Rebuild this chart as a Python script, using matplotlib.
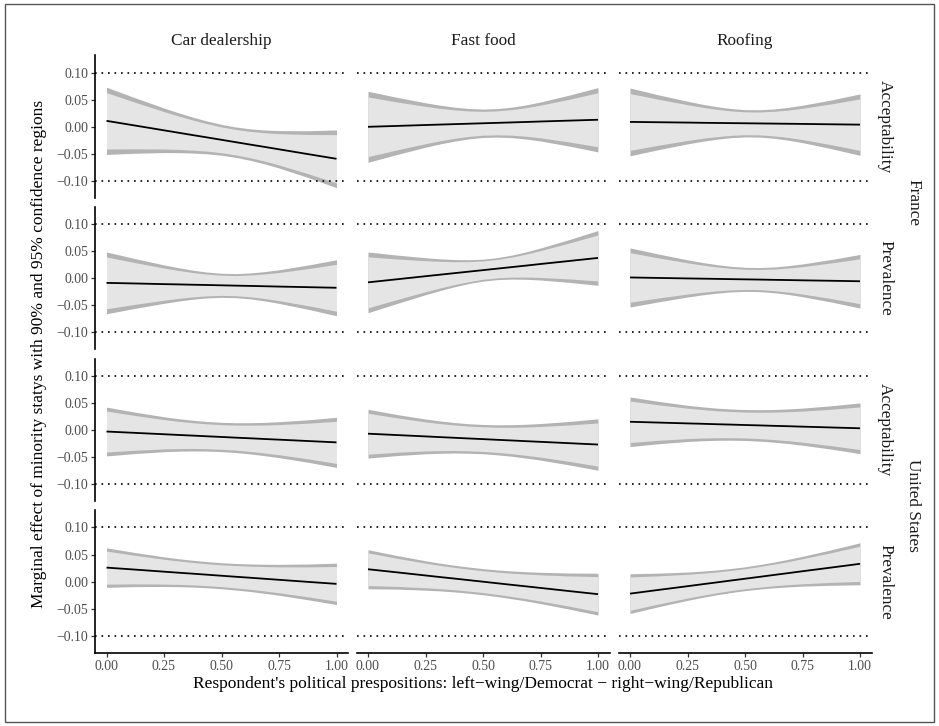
import numpy as np
import matplotlib.pyplot as plt
from matplotlib.patches import Rectangle

plt.rcParams['font.family'] = ['Liberation Serif', 'DejaVu Serif']

industries = ['Car dealership', 'Fast food', 'Roofing']
countries = ['France', 'United States']
outcomes = ['Acceptability', 'Prevalence']

x_pts = [0, 0.125, 0.25, 0.3125, 0.375, 0.4375, 0.5, 0.5625, 0.625, 0.6875, 0.75, 0.875, 1.0]

# fitted line and half-widths of the 95% / 90% bands, one list per industry
fr_acc_line = [[.011, .0023, -.0065, -.0109, -.0153, -.0196, -.024, -.0284, -.0328, -.0371, -.0415, -.0503, -.059],
               [0, .0016, .0033, .0041, .0049, .0057, .0065, .0073, .0081, .0089, .0098, .0114, .013],
               [.009, .0084, .0078, .0074, .0071, .0068, .0065, .0062, .0059, .0056, .0053, .0046, .004]]
fr_acc_hw95 = [[.0620, .0511, .0411, .0368, .0331, .0302, .0284, .0280, .0290, .0312, .0345, .0430, .0532],
               [.0655, .0528, .0410, .0358, .0314, .0280, .0262, .0263, .0281, .0315, .0360, .0470, .0593],
               [.0625, .0504, .0393, .0343, .0301, .0269, .0252, .0252, .0270, .0302, .0345, .0449, .0566]]
fr_acc_hw90 = [[.0520, .0429, .0345, .0309, .0278, .0253, .0238, .0235, .0243, .0262, .0289, .0361, .0446],
               [.0550, .0443, .0344, .0300, .0263, .0235, .0220, .0221, .0236, .0264, .0302, .0394, .0498],
               [.0524, .0423, .0330, .0288, .0253, .0226, .0211, .0211, .0227, .0253, .0289, .0377, .0475]]

fr_prev_line = [[-.009, -.0101, -.0113, -.0118, -.0124, -.0129, -.0135, -.0141, -.0146, -.0152, -.0158, -.0169, -.018],
                [-.008, -.0024, .0033, .0061, .0089, .0117, .0145, .0173, .0201, .0229, .0258, .0314, .037],
                [.001, .0001, -.0008, -.0012, -.0016, -.0021, -.0025, -.0029, -.0034, -.0038, -.0043, -.0051, -.006]]
fr_prev_hw95 = [[.0570, .0458, .0354, .0308, .0268, .0238, .0222, .0222, .0239, .0270, .0310, .0407, .0516],
                [.0560, .0447, .0341, .0293, .0252, .0220, .0202, .0203, .0221, .0253, .0295, .0395, .0505],
                [.0545, .0440, .0343, .0300, .0264, .0237, .0222, .0222, .0237, .0265, .0302, .0392, .0494]]
fr_prev_hw90 = [[.0478, .0384, .0297, .0258, .0225, .0200, .0186, .0186, .0201, .0227, .0260, .0341, .0433],
                [.0470, .0375, .0286, .0246, .0211, .0185, .0169, .0170, .0185, .0212, .0248, .0331, .0424],
                [.0457, .0369, .0288, .0252, .0221, .0199, .0186, .0186, .0199, .0222, .0253, .0329, .0414]]

us_acc_line = [[-.003, -.0055, -.008, -.0093, -.0105, -.0118, -.013, -.0143, -.0155, -.0168, -.018, -.0205, -.023],
               [-.007, -.0095, -.012, -.0133, -.0145, -.0158, -.017, -.0183, -.0195, -.0208, -.022, -.0245, -.027],
               [.015, .0135, .012, .0113, .0105, .0098, .009, .0083, .0075, .0068, .006, .0045, .003]]
us_acc_hw95 = [[.0450, .0381, .0322, .0300, .0283, .0273, .0270, .0275, .0288, .0307, .0331, .0391, .0462],
               [.0450, .0379, .0320, .0298, .0281, .0272, .0270, .0277, .0291, .0312, .0337, .0401, .0474],
               [.0457, .0390, .0334, .0313, .0297, .0288, .0285, .0290, .0301, .0319, .0342, .0400, .0468]]
us_acc_hw90 = [[.0378, .0320, .0270, .0252, .0237, .0229, .0227, .0231, .0242, .0258, .0278, .0328, .0388],
               [.0378, .0318, .0268, .0250, .0236, .0228, .0227, .0232, .0244, .0262, .0283, .0336, .0398],
               [.0383, .0327, .0280, .0263, .0249, .0242, .0239, .0243, .0253, .0268, .0287, .0336, .0393]]

us_prev_line = [[.026, .0223, .0185, .0166, .0148, .0129, .011, .0091, .0073, .0054, .0035, -.0003, -.004],
                [.023, .0173, .0115, .0086, .0058, .0029, 0, -.0029, -.0058, -.0086, -.0115, -.0173, -.023],
                [-.022, -.0151, -.0083, -.0048, -.0014, .0021, .0055, .0089, .0124, .0158, .0193, .0261, .033]]
us_prev_hw95 = [[.0364, .0314, .0273, .0258, .0247, .0241, .0240, .0245, .0254, .0268, .0285, .0329, .0381],
                [.0360, .0310, .0271, .0256, .0246, .0241, .0241, .0246, .0256, .0270, .0288, .0333, .0386],
                [.0367, .0309, .0261, .0243, .0229, .0222, .0220, .0226, .0237, .0254, .0275, .0327, .0387]]
us_prev_hw90 = [[.0305, .0263, .0229, .0216, .0207, .0202, .0201, .0206, .0213, .0225, .0239, .0276, .0320],
                [.0302, .0260, .0227, .0215, .0206, .0202, .0202, .0206, .0215, .0227, .0242, .0279, .0324],
                [.0308, .0259, .0219, .0204, .0192, .0186, .0185, .0190, .0199, .0213, .0231, .0274, .0325]]

y_ticks = [-0.10, -0.05, 0.00, 0.05, 0.10]
y_tick_labels = ['\u22120.10', '\u22120.05', '0.00', '0.05', '0.10']
x_ticks = [0, 0.25, 0.5, 0.75, 1.0]
x_tick_labels = ['0.00', '0.25', '0.50', '0.75', '1.00']
ref_lines = [-0.1, 0.1]

rows = [(fr_acc_line, fr_acc_hw95, fr_acc_hw90),
        (fr_prev_line, fr_prev_hw95, fr_prev_hw90),
        (us_acc_line, us_acc_hw95, us_acc_hw90),
        (us_prev_line, us_prev_hw95, us_prev_hw90)]

W, H = 939, 726
fig = plt.figure(figsize=(W / 100, H / 100), dpi=100)

lefts = [95, 356.5, 618.5]
tops = [55.5, 206.7, 358.6, 510.4]
pw, ph = 253, 142.6


def px_axes(left, top):
    return fig.add_axes([left / W, 1 - (top + ph) / H, pw / W, ph / H])


x = np.array(x_pts)
for r, (lines, hw95s, hw90s) in enumerate(rows):
    for c in range(3):
        ax = px_axes(lefts[c], tops[r])
        line = np.array(lines[c])
        hw95 = np.array(hw95s[c])
        hw90 = np.array(hw90s[c])
        ax.fill_between(x, line - hw95, line + hw95, color='#B3B3B3', lw=0)
        ax.fill_between(x, line - hw90, line + hw90, color='#E5E5E5', lw=0)
        ax.plot(x, line, color='black', lw=1.3, solid_capstyle='butt')
        for yv in ref_lines:
            ax.axhline(yv, color='black', lw=1.2, ls=(0, (1, 2.9)))
        ax.set_xlim(-0.05, 1.05)
        ax.set_ylim(-0.1315, 0.1315)
        for s in ['top', 'right']:
            ax.spines[s].set_visible(False)
        ax.spines['left'].set_visible(c == 0)
        ax.spines['bottom'].set_visible(r == 3)
        for s in ['left', 'bottom']:
            ax.spines[s].set_linewidth(1.2)
        ax.tick_params(length=2.8, width=0.9, color='#333333', pad=2,
                       labelsize=9.9, labelcolor='#4D4D4D')
        if c == 0:
            ax.set_yticks(y_ticks)
            ax.set_yticklabels(y_tick_labels)
        else:
            ax.set_yticks([])
        if r == 3:
            ax.set_xticks(x_ticks)
            ax.set_xticklabels(x_tick_labels)
        else:
            ax.set_xticks([])
        ax.patch.set_alpha(0)

# strips
for c, name in enumerate(industries):
    fig.text((lefts[c] + pw / 2) / W, 1 - 41 / H, name, ha='center', va='center',
             fontsize=12.4, color='#1A1A1A')
for r in range(4):
    fig.text(885 / W, 1 - (tops[r] + ph / 2) / H, outcomes[r % 2], ha='center',
             va='center', rotation=-90, fontsize=12.4, color='#1A1A1A')
for k, name in enumerate(countries):
    yc = (tops[2 * k] + tops[2 * k + 1] + ph) / 2
    fig.text(913 / W, 1 - yc / H, name, ha='center', va='center', rotation=-90,
             fontsize=12.4, color='#1A1A1A')

fig.text(39 / W, 1 - 354 / H,
         'Marginal effect of minority statys with 90% and 95% confidence regions',
         rotation=90, ha='center', va='center', fontsize=12.5)
fig.text(483 / W, 1 - 684 / H,
         "Respondent's political prespositions: left\u2212wing/Democrat \u2212 right\u2212wing/Republican",
         ha='center', va='center', fontsize=12.5)

fig.patches.append(Rectangle((5 / W, 4 / H), 929 / W, 718 / H, transform=fig.transFigure,
                             fill=False, edgecolor='#555555', lw=1))

plt.savefig('out.png', dpi=100)
